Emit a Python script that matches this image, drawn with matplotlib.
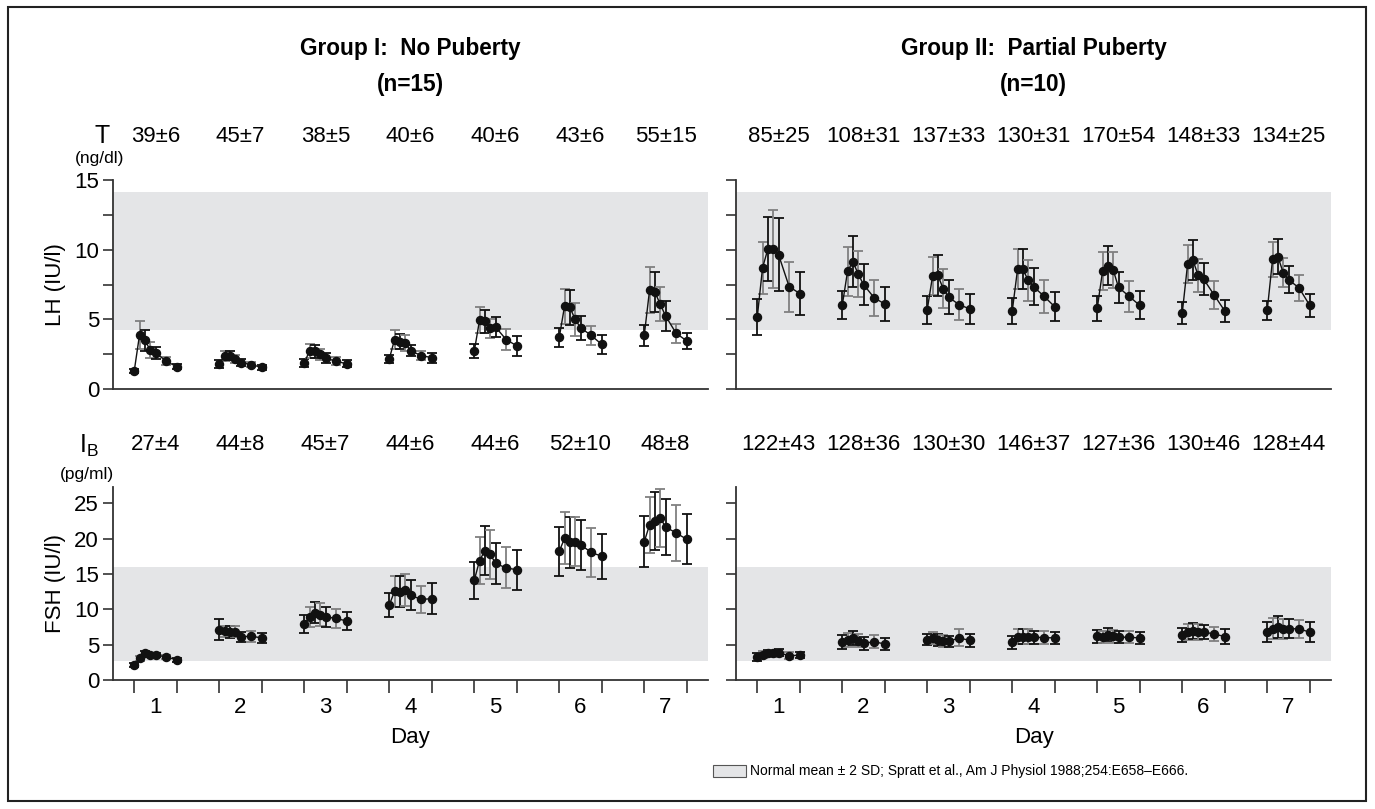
import matplotlib
matplotlib.use("Agg")
import matplotlib.pyplot as plt
import matplotlib.transforms as mtransforms
from matplotlib.patches import Rectangle

plt.rcParams['font.family'] = ['Liberation Sans', 'DejaVu Sans']

# sampling times within each day (h) and days
hours = [0, 0.5, 1, 1.5, 2, 3, 4]
days = [1, 2, 3, 4, 5, 6, 7]

# LH (IU/l), group I
lh_g1_mean = [[1.3, 3.9, 3.5, 2.8, 2.6, 2.0, 1.6],
              [1.8, 2.35, 2.4, 2.15, 1.9, 1.75, 1.55],
              [1.85, 2.75, 2.7, 2.5, 2.2, 2.0, 1.8],
              [2.15, 3.55, 3.4, 3.3, 2.75, 2.4, 2.25],
              [2.7, 4.95, 4.85, 4.35, 4.45, 3.55, 3.1],
              [3.7, 5.95, 5.85, 5.0, 4.4, 3.85, 3.2],
              [3.85, 7.1, 6.95, 6.1, 5.25, 4.0, 3.45]]
lh_g1_sem = [[0.15, 1.0, 0.75, 0.55, 0.45, 0.3, 0.2],
             [0.3, 0.35, 0.35, 0.3, 0.25, 0.2, 0.2],
             [0.3, 0.5, 0.45, 0.4, 0.35, 0.3, 0.25],
             [0.3, 0.65, 0.55, 0.55, 0.4, 0.35, 0.35],
             [0.5, 0.9, 0.85, 0.7, 0.75, 0.75, 0.7],
             [0.65, 1.25, 1.25, 1.2, 0.85, 0.7, 0.7],
             [0.75, 1.65, 1.45, 1.25, 1.1, 0.7, 0.6]]

# LH (IU/l), group II
lh_g2_mean = [[5.15, 8.7, 10.05, 10.05, 9.65, 7.35, 6.85],
              [6.0, 8.45, 9.15, 8.25, 7.5, 6.55, 6.1],
              [5.7, 8.1, 8.15, 7.2, 6.6, 6.05, 5.75],
              [5.6, 8.6, 8.6, 7.8, 7.35, 6.65, 5.9],
              [5.8, 8.45, 8.85, 8.55, 7.3, 6.65, 6.0],
              [5.45, 8.95, 9.25, 8.15, 7.9, 6.75, 5.6],
              [5.65, 9.3, 9.5, 8.35, 7.85, 7.25, 6.0]]
lh_g2_sem = [[1.3, 1.85, 2.3, 2.8, 2.65, 1.8, 1.55],
             [1.0, 1.75, 1.8, 1.65, 1.5, 1.3, 1.2],
             [1.0, 1.35, 1.45, 1.4, 1.25, 1.1, 1.05],
             [0.95, 1.45, 1.45, 1.45, 1.3, 1.2, 1.05],
             [0.9, 1.35, 1.4, 1.3, 1.1, 1.1, 1.0],
             [0.8, 1.35, 1.45, 1.2, 1.15, 1.0, 0.8],
             [0.7, 1.25, 1.25, 1.05, 0.95, 0.9, 0.85]]

# FSH (IU/l), group I
fsh_g1_mean = [[2.15, 3.05, 3.8, 3.5, 3.55, 3.25, 2.85],
               [7.1, 6.9, 6.8, 6.85, 6.1, 6.2, 5.95],
               [7.9, 8.95, 9.5, 9.25, 8.95, 8.7, 8.35],
               [10.6, 12.55, 12.5, 12.75, 12.0, 11.4, 11.5],
               [14.1, 16.9, 18.3, 17.8, 16.5, 15.85, 15.6],
               [18.2, 20.05, 19.45, 19.55, 19.15, 18.05, 17.5],
               [19.55, 21.95, 22.55, 22.95, 21.65, 20.8, 19.9]]
fsh_g1_sem = [[0.25, 0.3, 0.3, 0.3, 0.3, 0.3, 0.25],
              [1.5, 0.8, 0.8, 0.8, 0.75, 0.8, 0.7],
              [1.25, 1.4, 1.5, 1.6, 1.4, 1.35, 1.3],
              [1.7, 2.2, 2.2, 2.3, 2.1, 1.9, 2.2],
              [2.65, 3.3, 3.5, 3.45, 2.9, 2.9, 2.8],
              [3.45, 3.7, 3.55, 3.45, 3.55, 3.45, 3.2],
              [3.6, 3.95, 4.1, 4.1, 3.9, 3.9, 3.55]]

# FSH (IU/l), group II
fsh_g2_mean = [[3.25, 3.55, 3.8, 3.75, 3.85, 3.45, 3.5],
               [5.4, 5.65, 5.9, 5.55, 5.2, 5.4, 5.1],
               [5.7, 5.9, 5.65, 5.5, 5.45, 5.95, 5.6],
               [5.35, 6.15, 6.15, 6.15, 6.05, 6.0, 5.95],
               [6.2, 6.1, 6.4, 6.2, 6.05, 6.05, 5.95],
               [6.35, 6.8, 6.9, 6.8, 6.8, 6.5, 6.15],
               [6.8, 7.25, 7.5, 7.25, 7.25, 7.25, 6.75]]
fsh_g2_sem = [[0.5, 0.5, 0.5, 0.5, 0.5, 0.45, 0.45],
              [0.95, 1.0, 1.0, 0.95, 0.9, 0.9, 0.85],
              [0.8, 0.85, 0.8, 0.8, 0.75, 1.2, 0.9],
              [0.9, 1.0, 1.0, 1.0, 0.95, 0.9, 0.9],
              [0.9, 0.9, 0.9, 0.9, 0.85, 0.85, 0.85],
              [1.0, 1.1, 1.1, 1.1, 1.05, 1.0, 1.0],
              [1.4, 1.5, 1.5, 1.4, 1.35, 1.3, 1.4]]

# daily testosterone (ng/dl) and inhibin B (pg/ml)
t_g1 = ['39±6', '45±7', '38±5', '40±6', '40±6', '43±6', '55±15']
t_g2 = ['85±25', '108±31', '137±33', '130±31', '170±54', '148±33', '134±25']
ib_g1 = ['27±4', '44±8', '45±7', '44±6', '44±6', '52±10', '48±8']
ib_g2 = ['122±43', '128±36', '130±30', '146±37', '127±36', '130±46', '128±44']

# normal range (mean ± 2 SD)
lh_normal = (4.2, 14.15)
fsh_normal = (2.65, 16.0)

band_color = '#e4e5e7'
fs = 16
W, H = 1375, 809
fig = plt.figure(figsize=(W / 100, H / 100), dpi=100)


def fx(px):
    return px / W


def fy(py):
    return 1 - py / H


ax_w = 595
axes = {}
axes['lh1'] = fig.add_axes([fx(113), fy(389), fx(ax_w), fy(180) - fy(389)])
axes['lh2'] = fig.add_axes([fx(736), fy(389), fx(ax_w), fy(180) - fy(389)])
axes['fsh1'] = fig.add_axes([fx(113), fy(680), fx(ax_w), fy(487) - fy(680)])
axes['fsh2'] = fig.add_axes([fx(736), fy(680), fx(ax_w), fy(487) - fy(680)])

day_len = 8  # hours of x space per day


def draw(ax, means, sems, band, ylim):
    ax.axhspan(band[0], band[1], color=band_color, lw=0, zorder=0)
    for d in range(len(days)):
        xs = [(days[d] - 1) * day_len + h for h in hours]
        for i in range(len(xs)):
            c = '#111111' if i % 2 == 0 else '#808080'
            ax.errorbar(xs[i], means[d][i], yerr=sems[d][i], fmt='none',
                        ecolor=c, elinewidth=1.3, capsize=3.5, capthick=1.3,
                        zorder=2)
        ax.plot(xs, means[d], '-o', color='#111111', lw=1.0, ms=5.8,
                zorder=3)
    ax.set_xlim(-2, 54)
    ax.set_ylim(*ylim)
    for s in ['top', 'right']:
        ax.spines[s].set_visible(False)
    for s in ['left', 'bottom']:
        ax.spines[s].set_color('#333333')
        ax.spines[s].set_linewidth(1.3)
    ax.tick_params(axis='y', direction='out', length=7, width=1.2,
                   color='#333333', labelsize=fs, pad=3)
    ax.tick_params(axis='y', which='minor', direction='out', length=7,
                   width=1.2, color='#333333')


draw(axes['lh1'], lh_g1_mean, lh_g1_sem, lh_normal, (0, 15))
draw(axes['lh2'], lh_g2_mean, lh_g2_sem, lh_normal, (0, 15))
draw(axes['fsh1'], fsh_g1_mean, fsh_g1_sem, fsh_normal, (0, 27.3))
draw(axes['fsh2'], fsh_g2_mean, fsh_g2_sem, fsh_normal, (0, 27.3))

for k in ['lh1', 'lh2']:
    ax = axes[k]
    ax.set_yticks([0, 5, 10, 15])
    ax.set_yticks([2.5, 7.5, 12.5], minor=True)
    ax.set_xticks([])
for k in ['fsh1', 'fsh2']:
    ax = axes[k]
    ax.set_yticks([0, 5, 10, 15, 20, 25])
    bounds = []
    for d in days:
        bounds += [(d - 1) * day_len + hours[0], (d - 1) * day_len + hours[-1]]
    ax.set_xticks(bounds)
    ax.set_xticklabels([])
    ax.set_xticks([(d - 1) * day_len + 2 for d in days], minor=True)
    ax.set_xticklabels([str(d) for d in days], minor=True)
    ax.tick_params(axis='x', which='major', direction='out', length=9,
                   width=1.2, color='#333333')
    ax.tick_params(axis='x', which='minor', length=0, labelsize=fs, pad=12)
    ax.set_xlabel('Day', fontsize=fs, labelpad=7)

for k in ['lh2', 'fsh2']:
    axes[k].set_yticklabels([])
    axes[k].set_yticklabels([], minor=True)

axes['lh1'].set_ylabel('LH (IU/l)', fontsize=fs, labelpad=6)
axes['fsh1'].set_ylabel('FSH (IU/l)', fontsize=fs, labelpad=6)

# daily hormone rows above each panel
for k, labels, ypx in [('lh1', t_g1, 137), ('lh2', t_g2, 137),
                       ('fsh1', ib_g1, 445), ('fsh2', ib_g2, 445)]:
    ax = axes[k]
    tr = mtransforms.blended_transform_factory(ax.transData, fig.transFigure)
    for d, lab in zip(days, labels):
        ax.text((d - 1) * day_len + 2, fy(ypx), lab, transform=tr,
                ha='center', va='center', fontsize=fs)

fig.text(fx(102), fy(136), 'T', ha='center', va='center', fontsize=18)
fig.text(fx(100), fy(158), '(ng/dl)', ha='center', va='center', fontsize=12.5)
fig.text(fx(89), fy(446), r'I$_{\mathregular{B}}$', ha='center', va='center',
         fontsize=18)
fig.text(fx(87), fy(475), '(pg/ml)', ha='center', va='center', fontsize=12.5)

# group titles
for ax, t1, t2 in [(axes['lh1'], 'Group I:  No Puberty', '(n=15)'),
                   (axes['lh2'], 'Group II:  Partial Puberty', '(n=10)')]:
    pos = ax.get_position()
    cx = (pos.x0 + pos.x1) / 2
    fig.text(cx, fy(49), t1, ha='center', va='center', fontsize=16.3,
             fontweight='bold')
    fig.text(cx, fy(85), t2, ha='center', va='center', fontsize=16.3,
             fontweight='bold')

# legend for the normal range
fig.patches.append(Rectangle((fx(713), fy(777)), fx(33), fy(765) - fy(777),
                             transform=fig.transFigure, facecolor=band_color,
                             edgecolor='#555555', lw=0.8))
fig.text(fx(750), fy(771), 'Normal mean ± 2 SD; Spratt et al., Am J Physiol '
         '1988;254:E658–E666.', ha='left', va='center', fontsize=10)

# figure frame
fig.patches.append(Rectangle((fx(8), fy(801)), fx(1358), fy(7) - fy(801),
                             transform=fig.transFigure, fill=False,
                             edgecolor='#222222', lw=1.5))

fig.savefig('out.png', dpi=100)
